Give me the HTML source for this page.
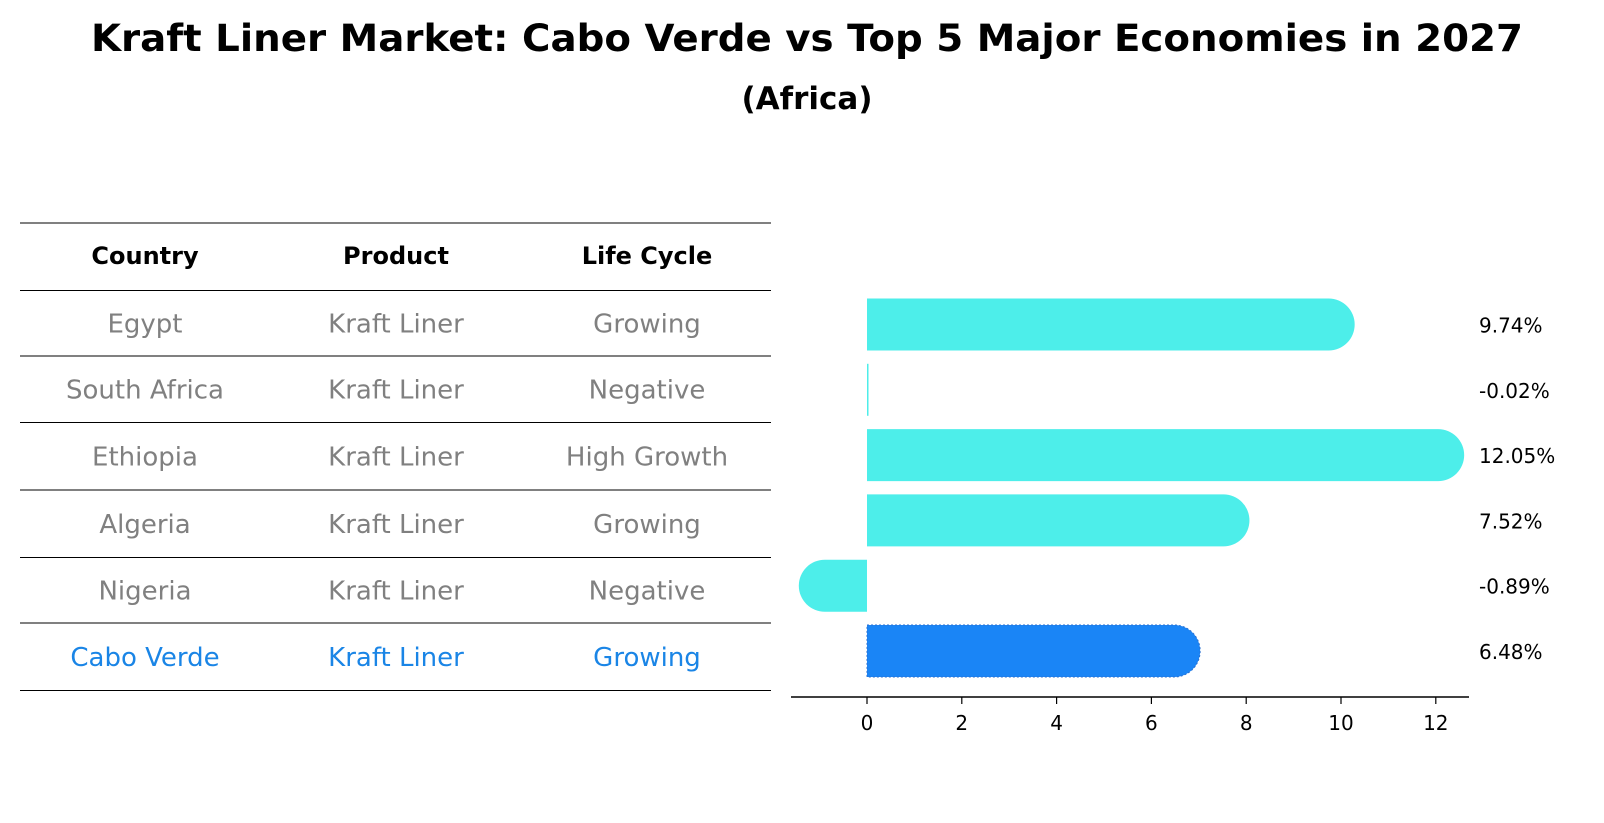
<!DOCTYPE html>
<html><head><meta charset="utf-8"><style>
body{margin:0;background:#fff;font-family:"Liberation Sans","DejaVu Sans",sans-serif}
#root{position:relative;width:1604px;height:823px;overflow:hidden}
</style></head><body><div id="root">
<svg id="svg" width="1604" height="823" font-family="DejaVu Sans, Liberation Sans, sans-serif">
<text x="807" y="51" text-anchor="middle" font-size="37" font-weight="bold" textLength="1432" lengthAdjust="spacingAndGlyphs">Kraft Liner Market: Cabo Verde vs Top 5 Major Economies in 2027</text>
<text x="807" y="109" text-anchor="middle" font-size="31" font-weight="bold">(Africa)</text>
</svg>
<script>
const countries=["Egypt","South Africa","Ethiopia","Algeria","Nigeria","Cabo Verde"];
const products=["Kraft Liner","Kraft Liner","Kraft Liner","Kraft Liner","Kraft Liner","Kraft Liner"];
const lifecycles=["Growing","Negative","High Growth","Growing","Negative","Growing"];
const values=[9.74,-0.02,12.05,7.52,-0.89,6.48];
const valueLabels=["9.74%","-0.02%","12.05%","7.52%","-0.89%","6.48%"];
const ticks=[0,2,4,6,8,10,12];
const NS="http://www.w3.org/2000/svg",svg=document.getElementById('svg');
function mk(t,a,txt){const e=document.createElementNS(NS,t);for(const k in a)e.setAttribute(k,a[k]);if(txt!==undefined)e.textContent=txt;svg.appendChild(e);return e;}
const X=v=>867+v*47.4;
const rowY=i=>324.5+i*65.3;
const lines=[223,290.5,356,422.5,490,557.5,623,690.5];
lines.forEach((y,i)=>{const l=mk('line',{x1:20,x2:771,y1:y,y2:y,stroke:'#000','stroke-width':1});

});
const colX=[145,396,647];
["Country","Product","Life Cycle"].forEach((h,j)=>{const t=mk('text',{x:colX[j],y:264,'text-anchor':'middle','font-size':24,'font-weight':'bold'},h);

});
countries.forEach((c,i)=>{const y=(lines[i+1]+lines[i+2])/2+9;const col=i===countries.length-1?'#1a85e6':'#808080';
[c,products[i],lifecycles[i]].forEach((v,j)=>{const t=mk('text',{x:colX[j],y:y,'text-anchor':'middle','font-size':26,fill:col},v);

});});
const h=52,r=26;
values.forEach((v,i)=>{const cy=rowY(i),x0=X(0),x1=X(v);const col=i===values.length-1?'#1a85f6':'#4deeea';
let d;
if(Math.abs(x1-x0)<2){d=`M${x0},${cy-h/2}h1.5v${h}h-1.5z`;}
else if(v>=0){d=`M${x0},${cy-h/2}H${x1}A${r},${r} 0 0 1 ${x1},${cy+h/2}H${x0}Z`;}
else{d=`M${x0},${cy-h/2}H${x1}A${r},${r} 0 0 0 ${x1},${cy+h/2}H${x0}Z`;}
const p=mk('path',{d:d,fill:col});
if(i===values.length-1){p.setAttribute('stroke','#2a6fd0');p.setAttribute('stroke-dasharray','2,2');p.setAttribute('stroke-width','1');}


const t=mk('text',{x:1479,y:cy+8,'font-size':20},valueLabels[i]);

});
const ax=mk('line',{x1:791,x2:1469,y1:697,y2:697,stroke:'#000','stroke-width':1.5});


ticks.forEach(v=>{const l=mk('line',{x1:X(v),x2:X(v),y1:697,y2:704,stroke:'#000','stroke-width':1.2});


const t=mk('text',{x:X(v),y:730,'text-anchor':'middle','font-size':20},String(v));

});
</script></div></body></html>
